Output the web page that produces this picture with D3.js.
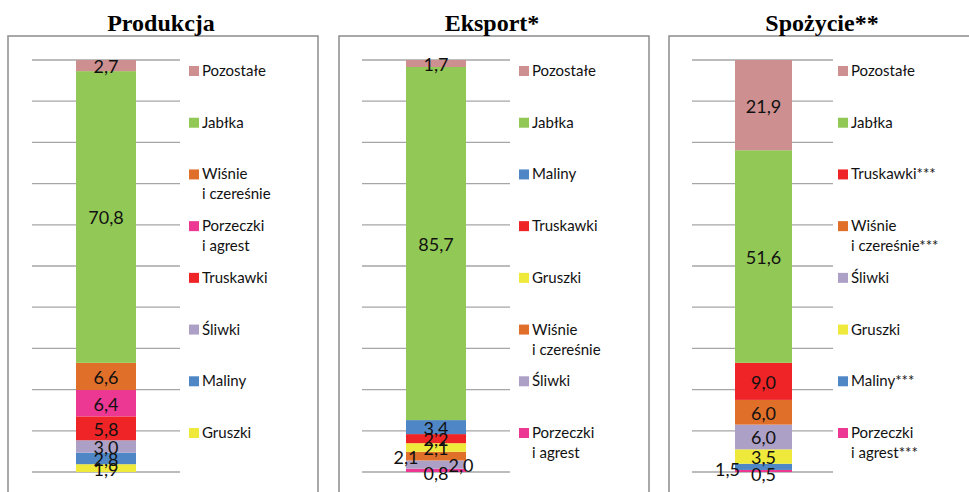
<!DOCTYPE html>
<html>
<head>
<meta charset="utf-8">
<script src="https://cdn.jsdelivr.net/npm/d3@7"></script>
<style>
  body { margin: 0; background: #fff; }
</style>
</head>
<body>
<svg width="969" height="492"></svg>
<script>
// stack order is bottom -> top, legend shows it reversed
const prodCategories = ["Gruszki", "Maliny", "Śliwki", "Truskawki", "Porzeczki\ni agrest", "Wiśnie\ni czereśnie", "Jabłka", "Pozostałe"];
const prodValues = [1.9, 2.8, 3.0, 5.8, 6.4, 6.6, 70.8, 2.7];

const eksCategories = ["Porzeczki\ni agrest", "Śliwki", "Wiśnie\ni czereśnie", "Gruszki", "Truskawki", "Maliny", "Jabłka", "Pozostałe"];
const eksValues = [0.8, 2.0, 2.1, 2.1, 2.2, 3.4, 85.7, 1.7];

const spoCategories = ["Porzeczki\ni agrest***", "Maliny***", "Gruszki", "Śliwki", "Wiśnie\ni czereśnie***", "Truskawki***", "Jabłka", "Pozostałe"];
const spoValues = [0.5, 1.5, 3.5, 6.0, 6.0, 9.0, 51.6, 21.9];

const titles = ["Produkcja", "Eksport*", "Spożycie**"];
const gridTicks = [0, 10, 20, 30, 40, 50, 60, 70, 80, 90, 100];

const fruitColor = {
  "Pozostałe": "#cd8f8f",
  "Jabłka": "#92c856",
  "Wiśnie": "#e06f2a",
  "Porzeczki": "#ec3893",
  "Truskawki": "#ee2427",
  "Śliwki": "#ada0c7",
  "Maliny": "#4f87c6",
  "Gruszki": "#efe93c"
};
const colorOf = c => fruitColor[c.split(/[\n*]/)[0]];

// hand-placed data labels (as in the original)
const nudges = [
  {},
  {"Wiśnie\ni czereśnie": [-30, 0], "Śliwki": [25, 0], "Porzeczki\ni agrest": [0, 2]},
  {"Maliny***": [-36, 2], "Porzeczki\ni agrest***": [0, 3]}
];

const panels = [
  {title: titles[0], cats: prodCategories, vals: prodValues, left: 8, grid: [24, 172], bar: [68, 128], leg: 181},
  {title: titles[1], cats: eksCategories, vals: eksValues, left: 339, grid: [23, 171], bar: [67, 127], leg: 180},
  {title: titles[2], cats: spoCategories, vals: spoValues, left: 669, grid: [23, 164], bar: [66, 123], leg: 169}
];

const fmt = d3.formatLocale({decimal: ",", thousands: " ", grouping: [3], currency: ["", " zł"]}).format(".1f");

const svg = d3.select('svg');
const y = d3.scaleLinear().domain([0, 100]).range([472, 60]);

panels.forEach((p, pi) => {
  const g = svg.append('g').attr('transform', `translate(${p.left},0)`);

  g.append('rect')
    .attr('x', 0).attr('y', 36)
    .attr('width', 310).attr('height', 480)
    .attr('fill', 'none')
    .attr('stroke', '#8c8c8c')
    .attr('stroke-width', 1.5);

  g.append('text')
    .attr('x', 153).attr('y', 31)
    .attr('text-anchor', 'middle')
    .attr('font-family', '"Liberation Serif", "Times New Roman", serif')
    .attr('font-weight', 'bold')
    .attr('font-size', 24)
    .text(p.title);

  g.append('g')
    .selectAll('line')
    .data(gridTicks)
    .enter()
    .append('line')
    .attr('x1', p.grid[0]).attr('x2', p.grid[1])
    .attr('y1', d => y(d)).attr('y2', d => y(d))
    .attr('stroke', '#a6a6a6')
    .attr('stroke-width', 1.3);

  const x = d3.scaleBand().domain([p.title]).range(p.bar).padding(0);
  const row = {name: p.title};
  p.cats.forEach((c, i) => { row[c] = p.vals[i]; });
  const series = d3.stack().keys(p.cats)([row]);

  g.append('g')
    .selectAll('rect')
    .data(series)
    .enter()
    .append('rect')
    .attr('x', x(p.title))
    .attr('width', x.bandwidth())
    .attr('y', s => y(s[0][1]))
    .attr('height', s => y(s[0][0]) - y(s[0][1]))
    .attr('fill', s => colorOf(s.key));

  g.append('g')
    .selectAll('text')
    .data(series)
    .enter()
    .append('text')
    .attr('x', s => x(p.title) + x.bandwidth() / 2 + (nudges[pi][s.key] || [0, 0])[0])
    .attr('y', s => (y(s[0][0]) + y(s[0][1])) / 2 + 7.5 + (nudges[pi][s.key] || [0, 0])[1])
    .attr('text-anchor', 'middle')
    .attr('font-family', 'Lato, "Open Sans", sans-serif')
    .attr('font-size', 18)
    .attr('fill', '#111')
    .text(s => fmt(s[0][1] - s[0][0]));

  const legendCats = p.cats.slice().reverse();
  const ly = d3.scalePoint().domain(legendCats).range([71, 433]);
  const items = g.append('g')
    .selectAll('g')
    .data(legendCats)
    .enter()
    .append('g')
    .attr('transform', c => `translate(${p.leg},${ly(c)})`);

  items.append('rect')
    .attr('x', 0).attr('y', -5)
    .attr('width', 10).attr('height', 10)
    .attr('fill', c => colorOf(c));

  items.append('text')
    .attr('font-family', 'Lato, "Open Sans", sans-serif')
    .attr('font-size', 15)
    .attr('fill', '#111')
    .selectAll('tspan')
    .data(c => c.split('\n'))
    .enter()
    .append('tspan')
    .attr('x', 13)
    .attr('y', (d, i) => 5 + i * 20)
    .text(d => d);
});
</script>
</body>
</html>
